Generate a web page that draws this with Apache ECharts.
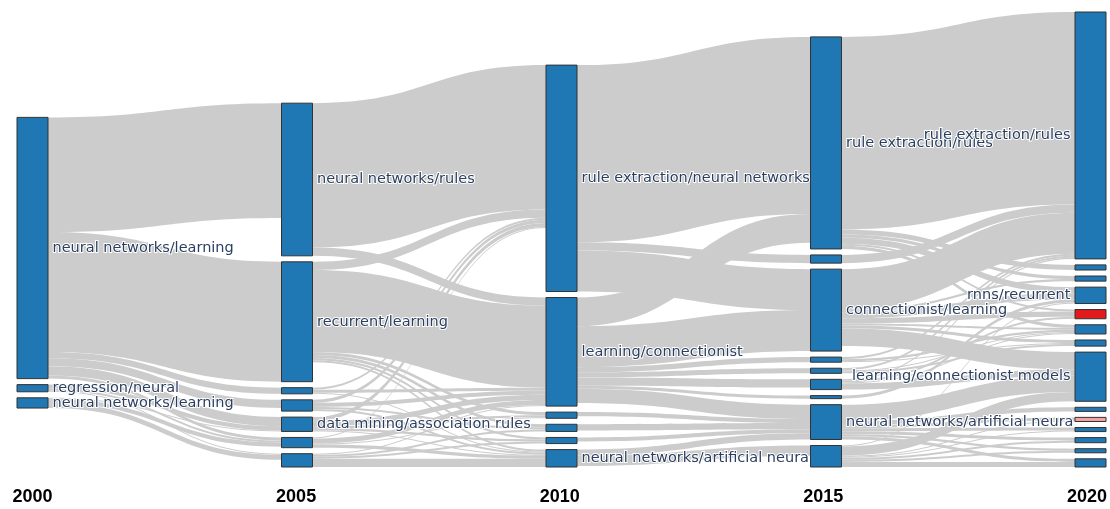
<!DOCTYPE html>
<html>
<head>
<meta charset="utf-8">
<script src="https://cdn.jsdelivr.net/npm/echarts@6/dist/echarts.min.js"></script>
<style>
  html, body { margin: 0; padding: 0; background: #fff; }
  #chart { width: 1110px; height: 509px; }
</style>
</head>
<body>
<div id="chart"></div>
<script>
// topic clusters per period (ids must be unique, labels may repeat)
const years = ['2000', '2005', '2010', '2015', '2020'];

const nodes2000 = ['n00a', 'n00b', 'n00c'];
const nodes2005 = ['n05a', 'n05b', 'n05c', 'n05d', 'n05e', 'n05f', 'n05g'];
const nodes2010 = ['n10a', 'n10b', 'n10c', 'n10d', 'n10e', 'n10f'];
const nodes2015 = ['n15a', 'n15b', 'n15c', 'n15d', 'n15e', 'n15f', 'n15g', 'n15h', 'n15i'];
const nodes2020 = ['n20a', 'n20b', 'n20c', 'n20d', 'n20e', 'n20f', 'n20g', 'n20h', 'n20i', 'n20j', 'n20k', 'n20l', 'n20m', 'n20n'];

const topicLabels = {
    n00a: 'neural networks/learning',
    n00b: 'regression/neural',
    n00c: 'neural networks/learning',
    n05a: 'neural networks/rules',
    n05b: 'recurrent/learning',
    n05e: 'data mining/association rules',
    n10a: 'rule extraction/neural networks',
    n10b: 'learning/connectionist',
    n10f: 'neural networks/artificial neura',
    n15a: 'rule extraction/rules',
    n15c: 'connectionist/learning',
    n15h: 'neural networks/artificial neura',
    n20a: 'rule extraction/rules',
    n20d: 'rnns/recurrent',
    n20h: 'learning/connectionist models'
};

// documents moving between clusters [source, target, count]
const flows2000 = [
    ['n00a', 'n05a', 112], ['n00a', 'n05b', 117], ['n00a', 'n05c', 6], ['n00a', 'n05d', 8],
    ['n00a', 'n05e', 9], ['n00a', 'n05f', 3],
    ['n00b', 'n05e', 4], ['n00b', 'n05f', 2], ['n00b', 'n05g', 1],
    ['n00c', 'n05e', 1], ['n00c', 'n05f', 4], ['n00c', 'n05g', 5]
];
const flows2005 = [
    ['n05a', 'n10a', 141], ['n05a', 'n10b', 8],
    ['n05b', 'n10a', 8], ['n05b', 'n10b', 80], ['n05b', 'n10c', 3], ['n05b', 'n10d', 2], ['n05b', 'n10e', 3], ['n05b', 'n10f', 2],
    ['n05c', 'n10a', 2], ['n05c', 'n10b', 3], ['n05c', 'n10f', 1],
    ['n05d', 'n10a', 3], ['n05d', 'n10b', 4], ['n05d', 'n10c', 2], ['n05d', 'n10f', 2],
    ['n05e', 'n10a', 4], ['n05e', 'n10b', 5], ['n05e', 'n10d', 2], ['n05e', 'n10e', 2], ['n05e', 'n10f', 1],
    ['n05f', 'n10a', 1], ['n05f', 'n10b', 5], ['n05f', 'n10e', 1], ['n05f', 'n10f', 3],
    ['n05g', 'n10f', 8], ['n05g', 'n10b', 1], ['n05g', 'n10c', 2], ['n05g', 'n10d', 2]
];
const flows2010 = [
    ['n10a', 'n15a', 173], ['n10a', 'n15b', 8], ['n10a', 'n15c', 40],
    ['n10b', 'n15a', 28], ['n10b', 'n15c', 40], ['n10b', 'n15d', 8], ['n10b', 'n15e', 5],
    ['n10b', 'n15f', 3], ['n10b', 'n15g', 5], ['n10b', 'n15h', 14],
    ['n10c', 'n15h', 6],
    ['n10d', 'n15h', 4],
    ['n10e', 'n15h', 4],
    ['n10f', 'n15i', 10], ['n10f', 'n15h', 6]
];
const flows2015 = [
    ['n15a', 'n20a', 188], ['n15a', 'n20b', 3], ['n15a', 'n20c', 5], ['n15a', 'n20d', 6], ['n15a', 'n20e', 3], ['n15a', 'n20f', 2],
    ['n15b', 'n20a', 8],
    ['n15c', 'n20a', 40], ['n15c', 'n20b', 2], ['n15c', 'n20d', 6], ['n15c', 'n20e', 2], ['n15c', 'n20f', 5],
    ['n15c', 'n20g', 3], ['n15c', 'n20h', 17],
    ['n15d', 'n20h', 6], ['n15d', 'n20f', 2], ['n15d', 'n20e', 1], ['n15d', 'n20a', 1],
    ['n15e', 'n20a', 2], ['n15e', 'n20e', 2], ['n15e', 'n20g', 1],
    ['n15f', 'n20d', 3],
    ['n15g', 'n20a', 2], ['n15g', 'n20e', 1], ['n15g', 'n20g', 2],
    ['n15h', 'n20h', 16], ['n15h', 'n20i', 3], ['n15h', 'n20j', 4], ['n15h', 'n20k', 3],
    ['n15h', 'n20l', 3], ['n15h', 'n20m', 2], ['n15h', 'n20n', 3],
    ['n15i', 'n20h', 9], ['n15i', 'n20i', 1], ['n15i', 'n20k', 1], ['n15i', 'n20l', 2],
    ['n15i', 'n20m', 2], ['n15i', 'n20n', 5], ['n15i', 'n20d', 1]
];

const nodeColors = {n20f: '#e31a1c', n20i: '#f4a3a3'};

const columns = [nodes2000, nodes2005, nodes2010, nodes2015, nodes2020];
const lastCol = columns.length - 1;

let sankeyNodes = [];
columns.forEach((col, depth) => {
    col.forEach(id => {
        sankeyNodes.push({
            id: id,
            name: id,
            depth: depth,
            itemStyle: {color: nodeColors[id] || '#1f77b4'},
            label: {position: depth === lastCol ? 'left' : 'right'}
        });
    });
});

let sankeyLinks = [].concat(flows2000, flows2005, flows2010, flows2015).map(f => {
    return {source: f[0], target: f[1], value: f[2]};
});

let myChart = echarts.init(document.getElementById('chart'));
myChart.setOption({
    animation: false,
    backgroundColor: '#fff',
    grid: {left: 32.5, right: 19.5, top: 12, bottom: 29, show: false},
    xAxis: {
        type: 'category',
        data: years,
        boundaryGap: false,
        axisLine: {show: false},
        axisTick: {show: false},
        splitLine: {show: false},
        axisLabel: {
            margin: 8,
            color: '#000',
            fontSize: 18,
            fontWeight: 'bold',
            fontFamily: 'Liberation Sans, Arial, sans-serif'
        }
    },
    yAxis: {type: 'value', show: false},
    series: [
        {
            type: 'sankey',
            left: 17,
            right: 4,
            top: 12,
            bottom: 42,
            nodeWidth: 31,
            nodeGap: 6,
            draggable: false,
            emphasis: {disabled: true},
            itemStyle: {borderColor: '#333', borderWidth: 1},
            lineStyle: {color: '#cccccc', opacity: 1, curveness: 0.5},
            label: {
                show: true,
                distance: 4,
                color: '#2a3f5f',
                fontSize: 14.5,
                fontFamily: 'DejaVu Sans, Verdana, sans-serif',
                textBorderColor: '#fff',
                textBorderWidth: 2,
                formatter: params => topicLabels[params.data.id] || ''
            },
            data: sankeyNodes,
            links: sankeyLinks
        }
    ]
});
</script>
</body>
</html>
